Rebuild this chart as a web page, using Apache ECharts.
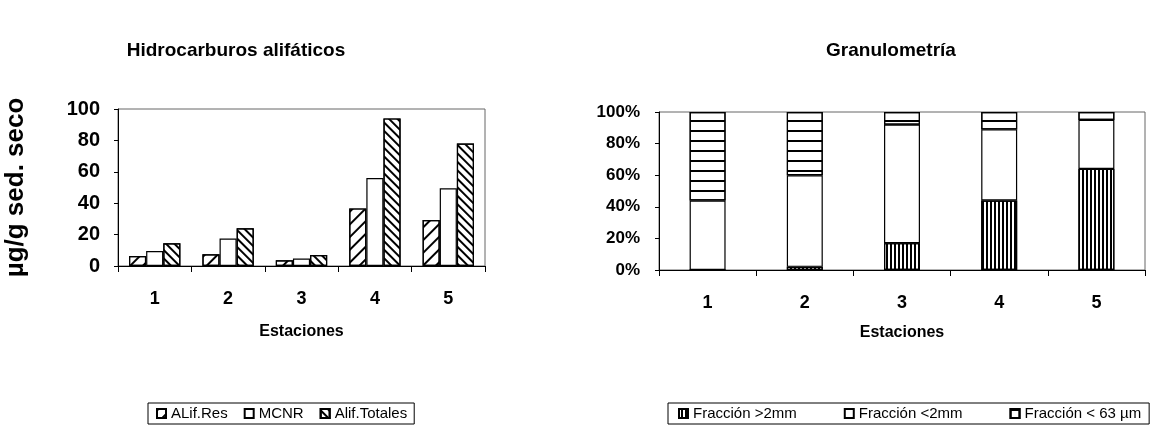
<!DOCTYPE html>
<html>
<head>
<meta charset="utf-8">
<script src="https://cdn.jsdelivr.net/npm/echarts@6/dist/echarts.min.js"></script>
<style>
html,body{margin:0;padding:0;background:#fff;}
#c{width:1164px;height:439px;}
</style>
</head>
<body>
<div id="c"></div>
<script>
// ---- Data ----
const stations = ['1', '2', '3', '4', '5'];
const alifRes = [6.4, 7.5, 3.6, 36.7, 29.3];
const mcnr = [9.6, 17.5, 4.7, 56, 49.5];
const alifTotales = [14.5, 24, 7, 94, 78];
const leftTicks = [0, 20, 40, 60, 80, 100];

const frac2mmPlus = [0, 2, 17, 44, 64];
const frac2mmMinus = [44, 58, 75, 45, 31];
const frac63 = [56, 40, 8, 11, 5];

const FONT = 'Liberation Sans, Arial, sans-serif';

const chart = echarts.init(document.getElementById('c'), null, {renderer: 'canvas'});

const barBorder = {borderColor: '#000', borderWidth: 1.2, color: '#fff'};

function labelStyle(size) {
  return {color: '#000', fontFamily: FONT, fontWeight: 'bold', fontSize: size};
}

const option = {
  backgroundColor: '#fff',
  animation: false,
  title: [
    {text: 'Hidrocarburos alif\u00e1ticos', left: 231, top: 36, textAlign: 'center',
      textStyle: {fontFamily: FONT, fontWeight: 'bold', fontSize: 19, color: '#000'}},
    {text: 'Granulometr\u00eda', left: 886, top: 36, textAlign: 'center',
      textStyle: {fontFamily: FONT, fontWeight: 'bold', fontSize: 19, color: '#000'}}
  ],
  legend: [
    {left: 148, top: 403, orient: 'horizontal',
      data: ['ALif.Res', 'MCNR', 'Alif.Totales'],
      icon: 'rect', itemWidth: 9, itemHeight: 9, itemGap: 16,
      padding: [3, 7, 3, 8], borderColor: '#000', borderWidth: 1,
      textStyle: {fontFamily: FONT, fontSize: 15, color: '#000'}},
    {left: 668, top: 403, orient: 'horizontal',
      data: ['Fracci\u00f3n >2mm', 'Fracci\u00f3n <2mm', 'Fracci\u00f3n < 63 \u00b5m'],
      icon: 'rect', itemWidth: 9, itemHeight: 9, itemGap: 47,
      padding: [3, 8, 3, 10], borderColor: '#000', borderWidth: 1,
      textStyle: {fontFamily: FONT, fontSize: 15, color: '#000'}}
  ],
  grid: [
    {left: 118, right: 679, top: 109, bottom: 173, show: true, borderColor: '#666', borderWidth: 1, backgroundColor: '#fff'},
    {left: 659, right: 19, top: 112, bottom: 169, show: true, borderColor: '#666', borderWidth: 1, backgroundColor: '#fff'}
  ],
  xAxis: [
    {type: 'category', gridIndex: 0, data: stations,
      name: 'Estaciones', nameLocation: 'middle', nameGap: 58,
      nameTextStyle: {fontFamily: FONT, fontWeight: 'bold', fontSize: 16, color: '#000'},
      axisLine: {lineStyle: {color: '#000', width: 1}},
      axisTick: {show: true, length: 6, lineStyle: {color: '#000'}},
      axisLabel: Object.assign({margin: 24}, labelStyle(18))},
    {type: 'category', gridIndex: 1, data: stations,
      name: 'Estaciones', nameLocation: 'middle', nameGap: 55,
      nameTextStyle: {fontFamily: FONT, fontWeight: 'bold', fontSize: 16, color: '#000'},
      axisLine: {lineStyle: {color: '#000', width: 1}},
      axisTick: {show: true, length: 6, lineStyle: {color: '#000'}},
      axisLabel: Object.assign({margin: 24}, labelStyle(18))}
  ],
  yAxis: [
    {type: 'value', gridIndex: 0, min: leftTicks[0], max: leftTicks[leftTicks.length - 1], interval: 20,
      name: '\u00b5g/g sed. seco', nameLocation: 'middle', nameGap: 89, nameRotate: 90,
      nameTextStyle: {fontFamily: FONT, fontWeight: 'bold', fontSize: 26, color: '#000'},
      axisLine: {show: true, lineStyle: {color: '#000', width: 1}},
      axisTick: {show: true, length: 4, lineStyle: {color: '#000'}},
      splitLine: {show: false},
      axisLabel: Object.assign({margin: 18}, labelStyle(20))},
    {type: 'value', gridIndex: 1, min: 0, max: 100, interval: 20,
      axisLine: {show: true, lineStyle: {color: '#000', width: 1}},
      axisTick: {show: true, length: 4, lineStyle: {color: '#000'}},
      splitLine: {show: false},
      axisLabel: Object.assign({margin: 19, formatter: '{value}%'}, labelStyle(17))}
  ],
  series: [
    {name: 'ALif.Res', type: 'bar', xAxisIndex: 0, yAxisIndex: 0, data: alifRes,
      barGap: '0%', barCategoryGap: '30%',
      itemStyle: Object.assign({decal: {symbol: 'rect', color: '#000', dashArrayX: [1, 0], dashArrayY: [1.5, 7], rotation: -Math.PI / 4}}, barBorder)},
    {name: 'MCNR', type: 'bar', xAxisIndex: 0, yAxisIndex: 0, data: mcnr,
      barGap: '0%', barCategoryGap: '30%',
      itemStyle: Object.assign({}, barBorder)},
    {name: 'Alif.Totales', type: 'bar', xAxisIndex: 0, yAxisIndex: 0, data: alifTotales,
      barGap: '0%', barCategoryGap: '30%',
      itemStyle: Object.assign({decal: {symbol: 'rect', color: '#000', dashArrayX: [1, 0], dashArrayY: [1.5, 4], rotation: Math.PI / 4}}, barBorder)},

    {name: 'Fracci\u00f3n >2mm', type: 'bar', xAxisIndex: 1, yAxisIndex: 1, stack: 'g', data: frac2mmPlus,
      barWidth: '37%',
      itemStyle: Object.assign({decal: {symbol: 'rect', color: '#000', dashArrayX: [1, 0], dashArrayY: [2, 2], rotation: Math.PI / 2}}, barBorder)},
    {name: 'Fracci\u00f3n <2mm', type: 'bar', xAxisIndex: 1, yAxisIndex: 1, stack: 'g', data: frac2mmMinus,
      barWidth: '37%',
      itemStyle: Object.assign({}, barBorder)},
    {name: 'Fracci\u00f3n < 63 \u00b5m', type: 'bar', xAxisIndex: 1, yAxisIndex: 1, stack: 'g', data: frac63,
      barWidth: '37%',
      itemStyle: Object.assign({decal: {symbol: 'rect', color: '#000', dashArrayX: [1, 0], dashArrayY: [2, 8], rotation: 0}}, barBorder)}
  ]
};

chart.setOption(option);
</script>
</body>
</html>
